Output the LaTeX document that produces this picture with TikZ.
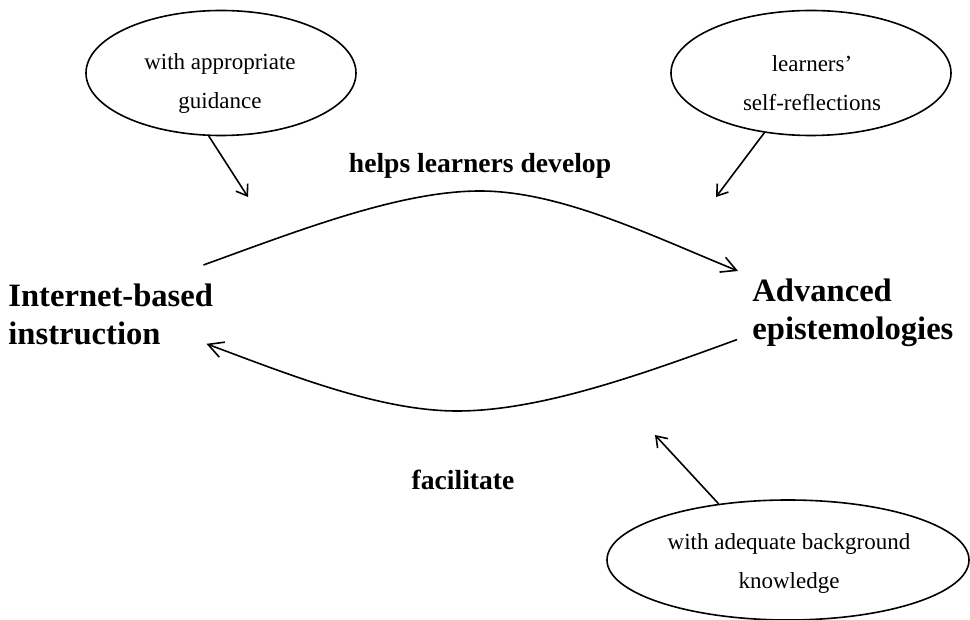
\documentclass[tikz,border=0pt]{standalone}
\usepackage{fontspec}
\setmainfont{Liberation Serif}
\usetikzlibrary{arrows.meta,shapes.geometric,calc}
\begin{document}
\begin{tikzpicture}[x=0.5pt,y=-0.5pt,
  bubble/.style={draw, line width=0.8pt, ellipse, inner sep=0pt},
  bubbletext/.style={align=center, inner sep=0pt, font=\fontsize{11.5}{19.5}\selectfont},
  mainlbl/.style={font=\fontsize{16.3}{19}\bfseries\selectfont, align=left, inner sep=0pt},
  edgelbl/.style={font=\fontsize{13.8}{16}\bfseries\selectfont, inner sep=0pt},
  bigarrow/.style={line width=0.8pt, -{Straight Barb[length=7.5pt,width=8pt]}},
  smallarrow/.style={line width=0.8pt, -{Straight Barb[length=5pt,width=7pt]}}
]
\useasboundingbox (0,0) rectangle (970,620);

\node[bubble, minimum width=135pt, minimum height=62.5pt] (e1) at (221,73) {};
\node[bubbletext] (e1t) at (220,84) {with appropriate\\guidance};
\node[bubble, minimum width=140pt, minimum height=62.5pt] (e2) at (811,73) {};
\node[bubbletext] (e2t) at (812,83) {learners'\\self-reflections};
\node[bubble, minimum width=181pt, minimum height=60pt] (e3) at (788,560) {};
\node[bubbletext] (e3t) at (789,564) {with adequate background\\knowledge};

\node[mainlbl, anchor=north west] (ib) at (8,283) {Internet-based\\instruction};
\node[mainlbl, anchor=north west] (ae) at (752,278) {Advanced\\epistemologies};

\node[edgelbl, anchor=base] (l1) at (480,173) {helps learners develop};
\node[edgelbl, anchor=base] (l2) at (463,489) {facilitate};

\draw[bigarrow] ($(ib.north east)+(-10,-18)$) .. controls (300,230) and (400,191) .. (480,191)
  .. controls (560,191) and (650,235) .. ($(ae.north west)+(-14,-7)$);
\draw[bigarrow] ($(ae.south west)+(-15,-7)$) .. controls (640,375) and (540,411) .. (457,411)
  .. controls (380,411) and (290,375) .. ($(ib.south east)+(-7,-1)$);

\coordinate (t1) at (248,197);
\coordinate (t2) at (716,197);
\coordinate (t3) at (655,435);
\draw[smallarrow] (e1.259) -- (t1);
\draw[smallarrow] (e2.232) -- (t2);
\draw[smallarrow] (e3.141) -- (t3);
\end{tikzpicture}
\end{document}
